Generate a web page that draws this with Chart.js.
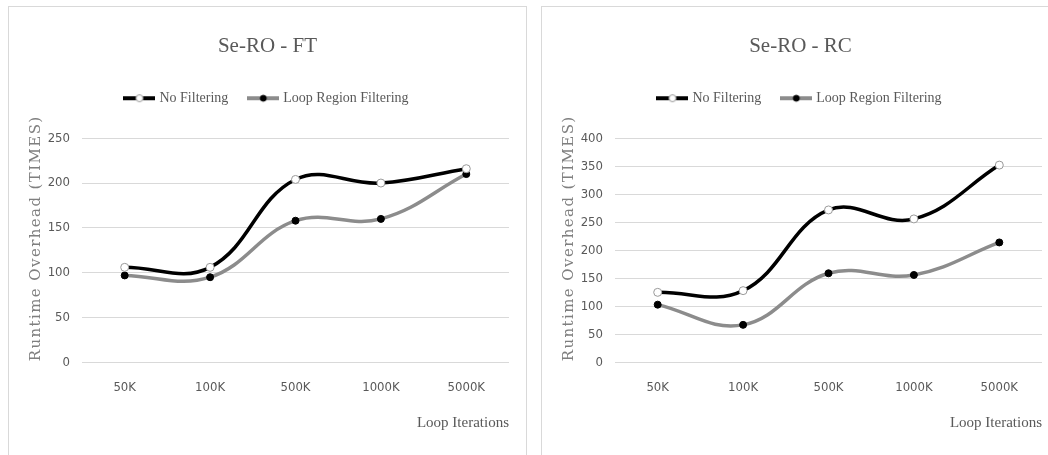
<!DOCTYPE html>
<html>
<head>
<meta charset="utf-8">
<script src="https://cdn.jsdelivr.net/npm/chart.js@4.4.1/dist/chart.umd.min.js"></script>
<style>
  html, body { margin: 0; padding: 0; background: #fff; overflow: hidden; }
  body { width: 1048px; height: 455px; position: relative; }
  .panel { position: absolute; top: 6px; height: 460px; border: 1px solid #d9d9d9; background: #fff; }
  #p1 { left: 8px; width: 517px; }
  #p2 { left: 541px; width: 517px; }
  .panel canvas { position: absolute; left: 0; top: 0; }
</style>
</head>
<body>
<div class="panel" id="p1"><canvas id="chartFT" width="517" height="445"></canvas></div>
<div class="panel" id="p2"><canvas id="chartRC" width="517" height="445"></canvas></div>
<script>
// data
const iterations = ['50K', '100K', '500K', '1000K', '5000K'];
const seriesNames = ['No Filtering', 'Loop Region Filtering'];

const ftNoFilter = [106, 106, 204, 200, 216];
const ftLoopRegion = [97, 95, 158, 160, 210];

const rcNoFilter = [125, 128, 272, 256, 352];
const rcLoopRegion = [103, 67, 159, 156, 214];

const yTitle = 'Runtime Overhead (TIMES)';

const serif = "'Liberation Serif', serif";
const narrow = "'Liberation Sans Narrow', 'DejaVu Sans Condensed', sans-serif";

// legend marker: short line with the point in the middle
function legendMarker(lineColor, fill, stroke, r) {
    const c = document.createElement('canvas');
    c.width = 32; c.height = 12;
    const g = c.getContext('2d');
    g.strokeStyle = lineColor;
    g.lineWidth = 4;
    g.beginPath();
    g.moveTo(0, 6); g.lineTo(32, 6);
    g.stroke();
    g.beginPath();
    g.arc(16, 6, r, 0, Math.PI * 2);
    g.fillStyle = fill;
    g.fill();
    g.lineWidth = 1;
    g.strokeStyle = stroke;
    g.stroke();
    return c;
}
const markers = [
    legendMarker('#000', '#fff', '#999', 3.5),
    legendMarker('#8c8c8c', '#000', '#000', 3)
];

// more room between legend and plot
const legendGap = {
    id: 'legendGap',
    beforeLayout(chart) {
        const lg = chart.legend;
        if (lg && !lg._gapPatched) {
            const fit = lg.fit;
            lg.fit = function () {
                fit.call(this);
                this.height += 23;
            };
            lg._gapPatched = true;
        }
    }
};

// y axis title, letter-spaced like the original
const yTitlePlugin = {
    id: 'yTitle',
    afterDraw(chart) {
        const ctx = chart.ctx;
        const area = chart.chartArea;
        ctx.save();
        ctx.translate(27, (area.top + area.bottom) / 2 - 12);
        ctx.rotate(-Math.PI / 2);
        ctx.font = "15px 'DejaVu Serif', serif";
        if ('letterSpacing' in ctx) ctx.letterSpacing = '1.4px';
        ctx.fillStyle = '#7f7f7f';
        ctx.textAlign = 'center';
        ctx.textBaseline = 'middle';
        ctx.fillText(yTitle, 0, 0);
        ctx.restore();
    }
};

function makeChart(id, title, noFilter, loopRegion, yMax, yStep) {
    const ctx = document.getElementById(id).getContext('2d');
    return new Chart(ctx, {
        type: 'line',
        data: {
            labels: iterations,
            datasets: [
                {
                    label: seriesNames[0],
                    data: noFilter,
                    borderColor: '#000',
                    borderWidth: 3.5,
                    tension: 0.4,
                    pointRadius: 4,
                    pointBackgroundColor: '#fff',
                    pointBorderColor: '#999',
                    pointBorderWidth: 1,
                    fill: false
                },
                {
                    label: seriesNames[1],
                    data: loopRegion,
                    borderColor: '#8c8c8c',
                    borderWidth: 3.5,
                    tension: 0.4,
                    pointRadius: 3.5,
                    pointBackgroundColor: '#000',
                    pointBorderColor: '#000',
                    pointBorderWidth: 1,
                    fill: false
                }
            ]
        },
        plugins: [legendGap, yTitlePlugin],
        options: {
            responsive: false,
            animation: false,
            layout: { padding: { left: 17, right: 17, top: 0, bottom: 20 } },
            plugins: {
                title: {
                    display: true,
                    text: title,
                    color: '#595959',
                    font: { family: serif, size: 21, weight: 'normal' },
                    padding: { top: 27, bottom: 10 }
                },
                legend: {
                    display: true,
                    labels: {
                        color: '#595959',
                        font: { family: serif, size: 14 },
                        usePointStyle: true,
                        pointStyleWidth: 26,
                        padding: 22,
                        generateLabels: (chart) => {
                            return chart.data.datasets.map((ds, i) => ({
                                text: ds.label,
                                pointStyle: markers[i],
                                fontColor: '#595959',
                                lineWidth: 0,
                                strokeStyle: 'transparent',
                                fillStyle: 'transparent',
                                datasetIndex: i
                            }));
                        }
                    }
                },
                tooltip: { enabled: false }
            },
            scales: {
                x: {
                    offset: true,
                    grid: { display: false, drawTicks: false },
                    border: { display: false },
                    ticks: {
                        color: '#595959',
                        font: { family: narrow, size: 13 },
                        padding: 17
                    },
                    title: {
                        display: true,
                        text: 'Loop Iterations',
                        align: 'end',
                        color: '#595959',
                        font: { family: serif, size: 15 },
                        padding: { top: 2, bottom: 0 }
                    }
                },
                y: {
                    min: 0,
                    max: yMax,
                    afterFit: (scale) => { scale.width = 56; },
                    grid: { color: '#d9d9d9', lineWidth: 1, drawTicks: false },
                    border: { display: false },
                    ticks: {
                        stepSize: yStep,
                        color: '#595959',
                        font: { family: narrow, size: 13 },
                        padding: 12
                    }
                }
            }
        }
    });
}

makeChart('chartFT', 'Se-RO - FT', ftNoFilter, ftLoopRegion, 250, 50);
makeChart('chartRC', 'Se-RO - RC', rcNoFilter, rcLoopRegion, 400, 50);
</script>
</body>
</html>
